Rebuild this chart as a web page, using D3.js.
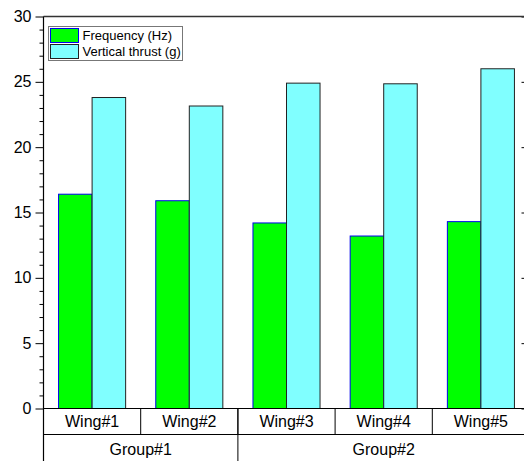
<!DOCTYPE html>
<html lang="en">
<head>
<meta charset="UTF-8">
<title>Wing frequency and thrust</title>
<script src="https://cdn.jsdelivr.net/npm/d3@7"></script>
<style>
  body { margin: 0; background: #fff; }
  text { font-family: "Liberation Sans", Arial, sans-serif; fill: #000; }
</style>
</head>
<body>
<div id="chart"></div>
<script>
var wings = ["Wing#1", "Wing#2", "Wing#3", "Wing#4", "Wing#5"];
var groups = [{name: "Group#1", from: 0, to: 2}, {name: "Group#2", from: 2, to: 5}];
var seriesNames = ["Frequency (Hz)", "Vertical thrust (g)"];
var frequency = [16.4, 15.9, 14.2, 13.2, 14.3];
var thrust = [23.8, 23.15, 24.9, 24.85, 26.0];
var yTicks = [0, 5, 10, 15, 20, 25, 30];

var width = 524, height = 461;
var plotL = 43.5, plotR = 529.5, plotT = 16.5, plotB = 408.5;

var svg = d3.select("#chart").append("svg")
    .attr("width", width)
    .attr("height", height);

var x = d3.scaleBand().domain(wings).range([plotL, plotR]);
var y = d3.scaleLinear().domain([0, 30]).range([plotB, plotT]);
var bw = x.bandwidth() * 0.345;

var fills = ["#00ff00", "#80ffff"];
var strokes = ["#0000ee", "#222"];

// bars
[frequency, thrust].forEach(function(vals, s) {
  svg.append("g").selectAll("rect")
    .data(vals)
    .enter().append("rect")
      .attr("x", function(d, i) { return x(wings[i]) + x.bandwidth() / 2 - bw + s * bw; })
      .attr("y", function(d) { return y(d); })
      .attr("width", bw)
      .attr("height", function(d) { return y(0) - y(d); })
      .attr("fill", fills[s])
      .attr("stroke", strokes[s])
      .attr("stroke-width", 1);
});

// left axis with minor ticks
var minor = d3.range(0, 31, 1).filter(function(d) { return d % 5; });
svg.append("g")
    .attr("transform", "translate(" + plotL + ",0)")
    .call(d3.axisLeft(y).tickValues(minor).tickSize(4).tickFormat(""))
    .call(function(g) { g.select(".domain").remove(); });

var yAxis = svg.append("g")
    .attr("transform", "translate(" + plotL + ",0)")
    .call(d3.axisLeft(y).tickValues(yTicks).tickSize(8).tickPadding(4));
yAxis.selectAll("text").style("font-size", "16px").style("font-family", "Liberation Sans, Arial, sans-serif");
yAxis.select(".domain").remove();

// right axis ticks (pointing in)
svg.append("g")
    .attr("transform", "translate(" + plotR + ",0)")
    .call(d3.axisLeft(y).tickValues(yTicks).tickSize(8).tickFormat(""))
    .call(function(g) { g.select(".domain").remove(); });

// frame
svg.append("line").attr("x1", plotL).attr("x2", plotR).attr("y1", plotT).attr("y2", plotT)
    .attr("stroke", "#333").attr("stroke-width", 1.6);
svg.append("line").attr("x1", plotL).attr("x2", plotL).attr("y1", plotT).attr("y2", height)
    .attr("stroke", "#000").attr("stroke-width", 1.2);
svg.append("line").attr("x1", plotL).attr("x2", plotR).attr("y1", plotB).attr("y2", plotB)
    .attr("stroke", "#000").attr("stroke-width", 1.2);

// category table
var rowH = 26;
svg.append("line").attr("x1", plotL).attr("x2", plotR).attr("y1", plotB + rowH).attr("y2", plotB + rowH)
    .attr("stroke", "#000").attr("stroke-width", 1);
svg.append("g").selectAll("line")
    .data(wings.slice(1))
    .enter().append("line")
      .attr("x1", function(d) { return x(d); })
      .attr("x2", function(d) { return x(d); })
      .attr("y1", plotB)
      .attr("y2", plotB + rowH)
      .attr("stroke", "#000");
svg.append("g").selectAll("text")
    .data(wings)
    .enter().append("text")
      .attr("x", function(d) { return x(d) + x.bandwidth() / 2; })
      .attr("y", plotB + 18.5)
      .attr("text-anchor", "middle")
      .style("font-size", "16px")
      .text(function(d) { return d; });

groups.forEach(function(g, i) {
  var x0 = x(wings[g.from]), x1 = g.to < wings.length ? x(wings[g.to]) : plotR;
  if (i > 0) {
    svg.append("line").attr("x1", x0).attr("x2", x0).attr("y1", plotB).attr("y2", height)
      .attr("stroke", "#000");
  }
  svg.append("text")
    .attr("x", (x0 + x1) / 2)
    .attr("y", plotB + rowH + 20.5)
    .attr("text-anchor", "middle")
    .style("font-size", "16px")
    .text(g.name);
});

// legend
var lg = svg.append("g").attr("transform", "translate(48.5,26.5)");
lg.append("rect").attr("width", 134).attr("height", 34)
    .attr("fill", "#fff").attr("stroke", "#777").attr("stroke-width", 1);
seriesNames.forEach(function(name, i) {
  lg.append("rect")
    .attr("x", 2).attr("y", 2 + i * 16)
    .attr("width", 28).attr("height", 14)
    .attr("fill", fills[i]).attr("stroke", strokes[i]);
  lg.append("text")
    .attr("x", 34).attr("y", 13.5 + i * 16)
    .style("font-size", "13px")
    .text(name);
});
</script>
</body>
</html>
